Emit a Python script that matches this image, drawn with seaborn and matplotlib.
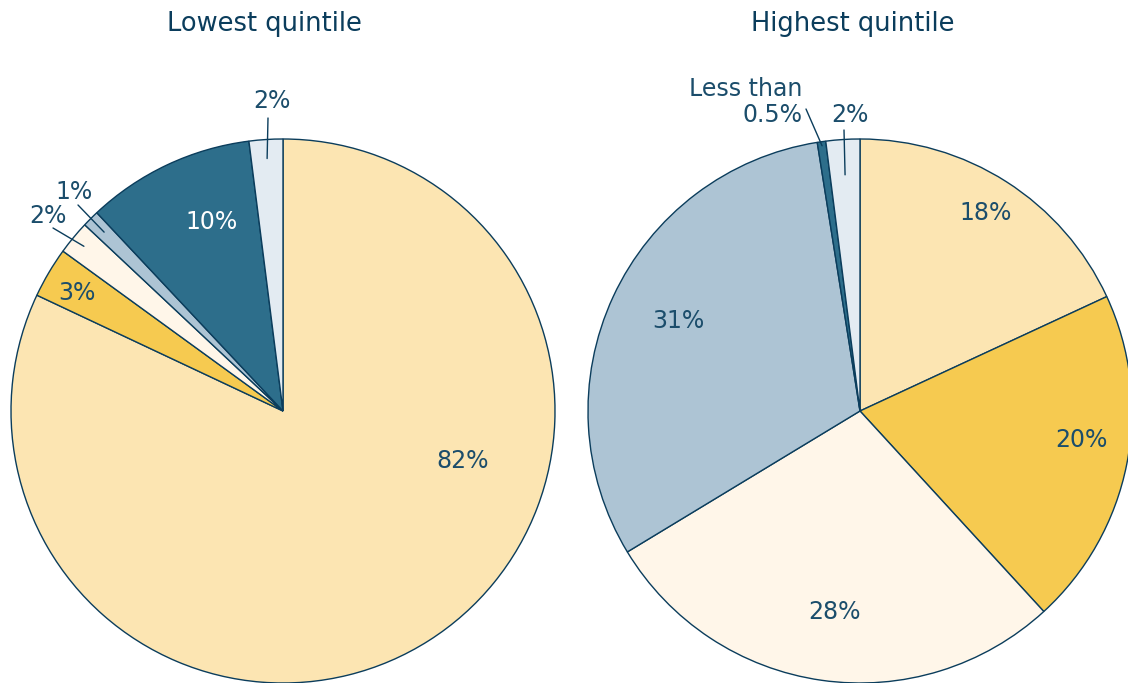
import numpy as np
import matplotlib.pyplot as plt
from matplotlib import font_manager
import seaborn as sns

# shares of spending, lowest vs highest income quintile
titles = ["Lowest quintile", "Highest quintile"]
lowest_shares = [82, 3, 2, 1, 10, 2]
highest_shares = [18, 20, 28, 31, 0.5, 2]
lowest_labels = ["82%", "3%", "2%", "1%", "10%", "2%"]
highest_labels = ["18%", "20%", "28%", "31%", "Less than\n0.5%", "2%"]

sns.set_theme(style="white")
names = {f.name for f in font_manager.fontManager.ttflist}
condensed = "DejaVu Sans Condensed" in names
family = "DejaVu Sans Condensed" if condensed else "DejaVu Sans"
plt.rcParams["font.family"] = [family, "DejaVu Sans"]
title_size = 20.5 if condensed else 18.5
label_size = 18.5 if condensed else 17

palette = sns.color_palette(["#FCE5B2", "#F6CA50", "#FFF6E9", "#ADC4D4", "#2D6E8B", "#E3EBF2"])
edge = "#0B3D5C"
ink = "#1B4D6B"

W, H = 1128, 683
fig = plt.figure(figsize=(W / 100, H / 100), dpi=100)
ax = fig.add_axes([0, 0, 1, 1])

# layout in picture pixels (y measured from the top)
centers = [(283, 411), (860, 411)]
radius = 272
title_pos = [(264, 24), (853, 24)]
text_pos = [
    [(463, 461), (77, 293), (48, 216), (74, 192), (212, 222), (272, 101)],
    [(986, 213), (1081, 440), (834, 612), (678, 321), (802, 102), (850, 115)],
]
# leader lines: wedge index -> (outer end, inner radius fraction)
leaders = [
    {2: ((53, 228), 0.95), 3: ((78, 205), 0.93), 5: ((268, 118), 0.93)},
    {4: ((806, 109), 0.985), 5: ((844, 130), 0.87)},
]


def flip(p):
    return (p[0], H - p[1])


for k, (shares, labels) in enumerate([(lowest_shares, lowest_labels),
                                      (highest_shares, highest_labels)]):
    cx, cy = flip(centers[k])
    wedges, _ = ax.pie(shares, colors=palette, startangle=90, counterclock=False,
                       center=(cx, cy), radius=radius, frame=True,
                       wedgeprops=dict(edgecolor=edge, linewidth=1.0))
    for i, (w, lab) in enumerate(zip(wedges, labels)):
        tx, ty = flip(text_pos[k][i])
        color = "white" if i == 4 and k == 0 else ink
        if "\n" in lab:
            ax.text(tx, ty, lab, ha="right", va="center", multialignment="right",
                    fontsize=label_size, color=color, linespacing=1.15)
        else:
            ax.text(tx, ty, lab, ha="center", va="center",
                    fontsize=label_size, color=color)
        if i in leaders[k]:
            start, rf = leaders[k][i]
            mid = np.deg2rad((w.theta1 + w.theta2) / 2)
            end = (cx + rf * radius * np.cos(mid), cy + rf * radius * np.sin(mid))
            ax.annotate("", xy=end, xytext=flip(start),
                        arrowprops=dict(arrowstyle="-", color=edge, lw=1.0,
                                        shrinkA=0, shrinkB=0))
    tx, ty = flip(title_pos[k])
    ax.text(tx, ty, titles[k], ha="center", va="center", fontsize=title_size, color=edge)

ax.set_xlim(0, W)
ax.set_ylim(0, H)
ax.set_aspect("equal")
ax.axis("off")

fig.savefig("out.png", dpi=100, facecolor="white")
